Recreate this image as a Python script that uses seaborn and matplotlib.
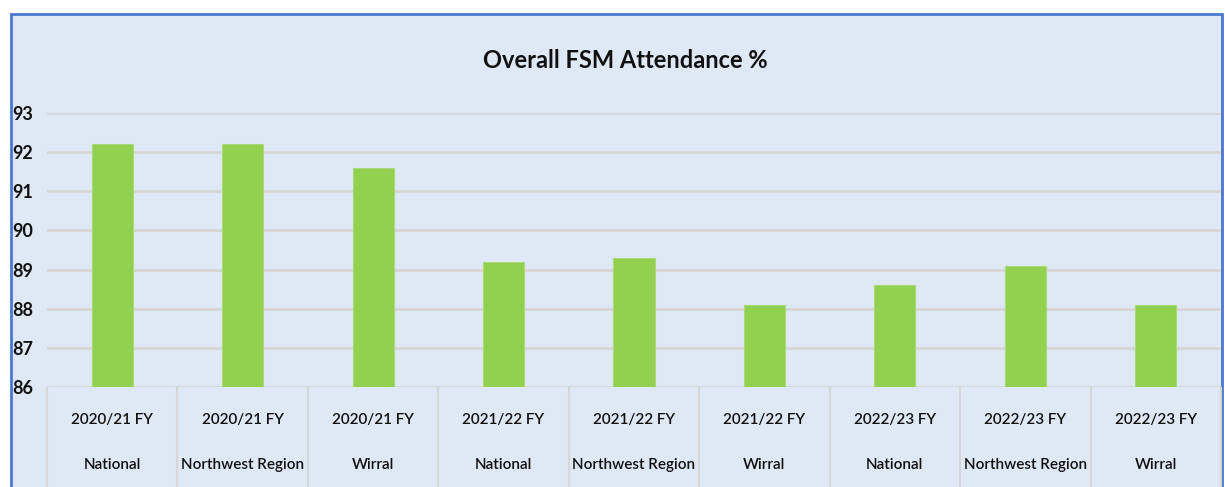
import matplotlib.pyplot as plt
import matplotlib.patches as mpatches
import matplotlib.transforms as mtransforms
import numpy as np
import pandas as pd
import seaborn as sns

# ----- Data -----

years = ['2020/21 FY', '2020/21 FY', '2020/21 FY',
         '2021/22 FY', '2021/22 FY', '2021/22 FY',
         '2022/23 FY', '2022/23 FY', '2022/23 FY']
areas = ['National', 'Northwest Region', 'Wirral'] * 3
attendance = [92.2, 92.2, 91.6, 89.2, 89.3, 88.1, 88.6, 89.1, 88.1]
y_ticks = [86, 87, 88, 89, 90, 91, 92, 93]

df = pd.DataFrame({'year': years, 'area': areas, 'value': attendance})
df['key'] = df['year'] + ' ' + df['area']

# ----- Style -----

sns.set_style('white')
plt.rcParams['font.family'] = ['Lato', 'DejaVu Sans']

bg = '#DEE9F5'
grid_c = '#D6D6D6'
bar_c = '#92D050'
txt_c = '#111111'

W, H = 1225, 487
fig = plt.figure(figsize=(W / 100, H / 100), dpi=100)
fig.patch.set_facecolor('white')

# chart area box
box = mpatches.Rectangle((11 / W, -0.05), (1222 - 11) / W, (H - 14) / H + 0.05,
                         transform=fig.transFigure, facecolor=bg,
                         edgecolor='#4A78D0', linewidth=2, zorder=-10)
fig.patches.append(box)

ax = fig.add_axes([47 / W, (H - 387) / H, 1174 / W, 274 / H])
ax.set_facecolor(bg)

sns.barplot(data=df, x='key', y='value', color=bar_c, width=0.315,
            saturation=1, edgecolor='#A8DA78', linewidth=0.8, ax=ax, zorder=3)

ax.set_ylim(86, 93)
ax.set_xlim(-0.5, len(df) - 0.5)
ax.set_yticks(y_ticks)
ax.set_yticklabels([str(t) for t in y_ticks], fontsize=13, fontweight='bold', color=txt_c)
ax.yaxis.grid(True, color=grid_c, linewidth=2, zorder=0)
ax.set_axisbelow(True)

for s in ax.spines.values():
    s.set_visible(False)

ax.set_xlabel('')
ax.set_ylabel('')
ax.set_xticks(range(len(df)))
ax.set_xticklabels([''] * len(df))
ax.tick_params(axis='x', which='major', length=0)
ax.tick_params(axis='y', length=0, pad=10)

# category separators
ax.set_xticks(np.arange(-0.5, len(df), 1), minor=True)
ax.tick_params(axis='x', which='minor', bottom=True, length=93, width=1.5,
               color=grid_c, direction='out')

# two-row category labels
trans = mtransforms.blended_transform_factory(ax.transData, ax.transAxes)
for i, (yr, ar) in enumerate(zip(df['year'], df['area'])):
    ax.text(i, -0.12, yr, transform=trans, ha='center', va='center',
            fontsize=11, fontweight='semibold', color=txt_c)
    ax.text(i, -0.285, ar, transform=trans, ha='center', va='center',
            fontsize=11, fontweight='semibold', color=txt_c)

fig.text(625 / W, 1 - 60 / H, 'Overall FSM Attendance %', ha='center', va='center',
         fontsize=17, fontweight='bold', color=txt_c)

fig.savefig('out.png', dpi=100)
